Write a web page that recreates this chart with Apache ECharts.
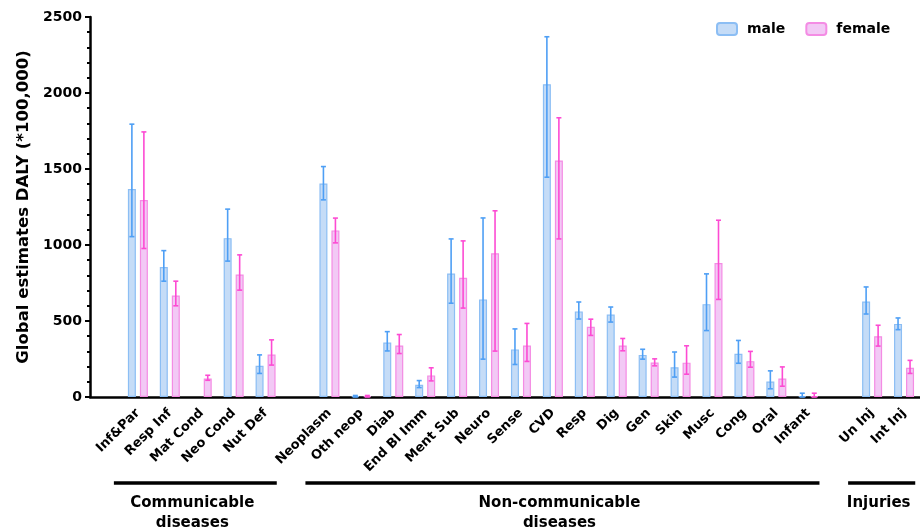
<!DOCTYPE html>
<html><head><meta charset="utf-8">
<script src="https://cdn.jsdelivr.net/npm/echarts@6/dist/echarts.min.js"></script>
<style>html,body{margin:0;padding:0;background:#fff}#c{width:920px;height:531px}</style>
</head><body><div id="c"></div>
<script>
const categories = ['', 'Inf&Par', 'Resp Inf', 'Mat Cond', 'Neo Cond', 'Nut Def', ' ',
  'Neoplasm', 'Oth neop', 'Diab', 'End Bl Imm', 'Ment Sub', 'Neuro', 'Sense', 'CVD', 'Resp', 'Dig', 'Gen', 'Skin', 'Musc', 'Cong', 'Oral', 'Infant', '  ',
  'Un Inj', 'Int Inj'];
const maleValues = [null, 1368, 855, null, 1045, 206, null,
  1405, 5, 358, 80, 812, 642, 313, 2058, 563, 542, 277, 196, 611, 284, 102, 6, null,
  628, 481];
const maleLow = [null, 1055, 762, null, 894, 155, null,
  1297, 0, 303, 62, 617, 249, 214, 1446, 513, 493, 249, 131, 437, 222, 54, 0, null,
  546, 443];
const maleHigh = [null, 1795, 963, null, 1236, 277, null,
  1516, 10, 430, 108, 1040, 1178, 448, 2370, 625, 592, 314, 296, 810, 372, 172, 25, null,
  724, 520];
const femaleValues = [null, 1296, 668, 121, 806, 280, null,
  1096, 5, 339, 142, 784, 945, 339, 1556, 462, 339, 227, 226, 882, 236, 122, 6, null,
  400, 192];
const femaleLow = [null, 977, 600, 110, 703, 210, null,
  1014, 0, 286, 106, 585, 302, 234, 1040, 405, 304, 205, 150, 642, 196, 71, 0, null,
  335, 155];
const femaleHigh = [null, 1744, 762, 143, 935, 376, null,
  1177, 10, 411, 192, 1027, 1225, 484, 1837, 512, 385, 251, 337, 1163, 300, 198, 25, null,
  472, 241];
const yTicks = [0, 500, 1000, 1500, 2000, 2500];
const groupNames = ['Communicable\ndiseases', 'Non-communicable\ndiseases', 'Injuries'];
const groupFirst = ['Inf&Par', 'Neoplasm', 'Un Inj'];
const groupLast = ['Nut Def', 'Infant', 'Int Inj'];

const FONT = 'DejaVu Sans';
const maleFill = '#c5dcf7', maleBorder = '#8cbef4', maleErr = '#4e9ff5';
const femaleFill = '#f2c9f5', femaleBorder = '#f48ce4', femaleErr = '#fd4bd3';

function errData(low, high) {
  const out = [];
  for (let i = 0; i < low.length; i++) if (low[i] != null) out.push([i, low[i], high[i]]);
  return out;
}
function errRender(offset, color) {
  return function (params, api) {
    const lo = api.coord([api.value(0), api.value(1)]);
    const hi = api.coord([api.value(0), api.value(2)]);
    const x = lo[0] + offset, cap = 2.5;
    const st = { stroke: color, lineWidth: 1.6 };
    return { type: 'group', children: [
      { type: 'line', shape: { x1: x, y1: lo[1], x2: x, y2: hi[1] }, style: st },
      { type: 'line', shape: { x1: x - cap, y1: hi[1], x2: x + cap, y2: hi[1] }, style: st },
      { type: 'line', shape: { x1: x - cap, y1: lo[1], x2: x + cap, y2: lo[1] }, style: st }
    ]};
  };
}

const chart = echarts.init(document.getElementById('c'), null, { renderer: 'canvas' });
chart.setOption({
  animation: false,
  textStyle: { fontFamily: FONT },
  grid: { left: 90, top: 17, width: 832, height: 380, containLabel: false },
  legend: {
    left: 711, top: 17, itemWidth: 20, itemHeight: 12, itemGap: 20,
    data: ['male', 'female'],
    textStyle: { fontFamily: FONT, fontWeight: 'bold', fontSize: 14, color: '#000', padding: [0, 0, 0, 5] }
  },
  xAxis: {
    type: 'category', data: categories, boundaryGap: true,
    axisLine: { lineStyle: { color: '#000', width: 2.5 } },
    axisTick: { alignWithLabel: true, length: 6, lineStyle: { color: '#000', width: 2 },
      interval: function (i, v) { return v.trim() !== ''; } },
    axisLabel: { interval: 0, rotate: 45, margin: 14, color: '#000', fontFamily: FONT, fontWeight: 'bold', fontSize: 13 }
  },
  yAxis: {
    type: 'value', min: yTicks[0], max: yTicks[yTicks.length - 1], interval: 500,
    name: 'Global estimates DALY (*100,000)', nameLocation: 'middle', nameGap: 53,
    nameTextStyle: { color: '#000', fontFamily: FONT, fontWeight: 'bold', fontSize: 16.5 },
    axisLine: { show: true, lineStyle: { color: '#000', width: 2.5 } },
    axisTick: { show: true, length: 5, lineStyle: { color: '#000', width: 2 } },
    minorTick: { show: true, splitNumber: 5, length: 3, lineStyle: { color: '#000', width: 2 } },
    splitLine: { show: false },
    axisLabel: { margin: 8, color: '#000', fontFamily: FONT, fontWeight: 'bold', fontSize: 14,
      formatter: function (v) { return String(v); } }
  },
  series: [
    { name: 'male', type: 'bar', data: maleValues, barWidth: 8, barGap: '50%',
      itemStyle: { color: maleFill, borderColor: maleBorder, borderWidth: 1.2 } },
    { name: 'female', type: 'bar', data: femaleValues, barWidth: 8,
      itemStyle: { color: femaleFill, borderColor: femaleBorder, borderWidth: 1.2 } },
    { name: 'maleErr', type: 'custom', data: errData(maleLow, maleHigh), renderItem: errRender(-6, maleErr), z: 5, silent: true },
    { name: 'femaleErr', type: 'custom', data: errData(femaleLow, femaleHigh), renderItem: errRender(6, femaleErr), z: 5, silent: true }
  ]
});

const slot = 832 / categories.length;
const gfx = [];
for (let g = 0; g < groupNames.length; g++) {
  const a = chart.convertToPixel({ xAxisIndex: 0 }, groupFirst[g]) - slot * 0.75;
  const b = chart.convertToPixel({ xAxisIndex: 0 }, groupLast[g]) + slot * 0.35;
  gfx.push({ type: 'line', shape: { x1: a, y1: 483, x2: b, y2: 483 }, style: { stroke: '#000', lineWidth: 3.5 } });
  gfx.push({ type: 'text', x: (a + b) / 2 - 3, y: 493, style: { text: groupNames[g], fill: '#000',
    font: 'bold 15px "DejaVu Sans"', align: 'center', verticalAlign: 'top', lineHeight: 20 } });
}
chart.setOption({ graphic: gfx });
</script></body></html>
